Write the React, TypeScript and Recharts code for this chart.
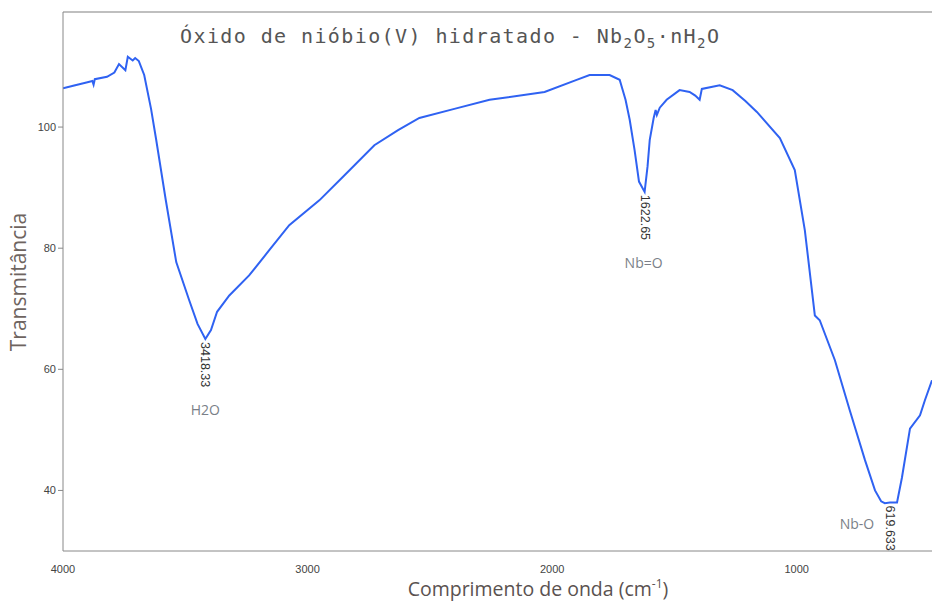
import React from 'react';
import { LineChart, Line, XAxis, YAxis, ReferenceLine, ReferenceDot } from 'recharts';

// wavenumber (cm-1) and transmittance
const wavenumber = [
  4000, 3950, 3900, 3880, 3875, 3870, 3820, 3790, 3771, 3745, 3735, 3715, 3705, 3690, 3668,
  3640, 3619, 3580, 3537, 3484, 3450, 3418, 3395, 3370, 3320, 3239, 3160, 3075, 2952, 2850,
  2727, 2630, 2543, 2400, 2256, 2031, 1900, 1847, 1765, 1724, 1700, 1683, 1663, 1645, 1622,
  1610, 1601, 1585, 1577, 1572, 1560, 1532, 1479, 1438, 1415, 1397, 1388, 1315, 1262, 1210,
  1163, 1069, 1008, 967, 926, 906, 844, 783, 721, 680, 655, 640, 619, 590, 570, 537, 496,
  476, 447,
];
const transmittance = [
  106.4, 106.9, 107.4, 107.6, 107.0, 107.9, 108.3, 109.0, 110.4, 109.4, 111.6, 111.0, 111.4, 110.9, 108.6,
  103.0, 97.9, 88.0, 77.7, 71.4, 67.5, 65.0, 66.5, 69.5, 72.2, 75.5, 79.5, 83.8, 87.9, 92.0,
  97.0, 99.5, 101.5, 103.0, 104.5, 105.8, 107.8, 108.6, 108.6, 107.8, 104.5, 101.2, 96.2, 91.0, 89.3,
  93.5, 97.9, 101.5, 102.8, 102.0, 103.2, 104.5, 106.1, 105.8, 105.2, 104.5, 106.3, 106.9, 106.1, 104.3,
  102.5, 98.2, 92.9, 83.0, 68.9, 68.1, 61.5, 53.2, 45.0, 40.0, 38.2, 37.9, 38.0, 38.0, 42.1, 50.2, 52.4,
  54.9, 58.2,
];

const xTicks = [4000, 3000, 2000, 1000];
const yTicks = [40, 60, 80, 100];

const peaks = [
  { w: 3418, t: 65.0, label: '3418.33', group: 'H2O', gdx: 0, gdy: 70 },
  { w: 1622, t: 89.3, label: '1622.65', group: 'Nb=O', gdx: -1, gdy: 71 },
  { w: 619, t: 38.0, label: '619.633', group: 'Nb-O', gdx: -33, gdy: 21 },
];

const data = wavenumber.map((w, i) => ({ w, t: transmittance[i] }));

const PeakLabel = ({ viewBox, text, group, gdx, gdy }: any) => {
  const x = viewBox.x + (viewBox.width || 0) / 2;
  const y = viewBox.y + (viewBox.height || 0) / 2;
  return (
    <g>
      <text
        transform={`translate(${x},${y + 3}) rotate(90)`}
        dominantBaseline="central"
        fontFamily="Liberation Sans, Arial, sans-serif"
        fontSize={12.5}
        fill="#333"
      >
        {text}
      </text>
      <text
        x={x + gdx}
        y={y + gdy}
        textAnchor="middle"
        dominantBaseline="central"
        fontFamily="Open Sans, sans-serif"
        fontSize={14}
        fill="#7a7f88"
      >
        {group}
      </text>
    </g>
  );
};

const App = () => {
  return (
    <div style={{ position: 'absolute', left: 0, top: 0, width: 932, height: 604, background: '#fff' }}>
      <LineChart width={932} height={604} data={data} margin={{ top: 12, right: 0, left: 0, bottom: 0 }}>
        <XAxis
          dataKey="w"
          type="number"
          domain={[447, 4000]}
          reversed
          allowDataOverflow
          ticks={xTicks}
          height={53}
          tickLine={false}
          stroke="#888"
          tick={{ fontSize: 11, fill: '#444', fontFamily: 'Liberation Sans, Arial, sans-serif' }}
          tickMargin={8}
        />
        <YAxis
          type="number"
          domain={[30, 119]}
          allowDataOverflow
          ticks={yTicks}
          width={63}
          tickSize={5}
          stroke="#888"
          tick={{ fontSize: 11, fill: '#444', fontFamily: 'Liberation Sans, Arial, sans-serif' }}
        />
        <ReferenceLine y={119} stroke="#aaa" strokeWidth={1.5} ifOverflow="extendDomain" />
        <Line
          type="linear"
          dataKey="t"
          stroke="#2f62f2"
          strokeWidth={2}
          dot={false}
          isAnimationActive={false}
        />
        {peaks.map((p) => (
          <ReferenceDot
            key={p.label}
            x={p.w}
            y={p.t}
            r={0}
            stroke="none"
            fill="none"
            label={(props: any) => (
              <PeakLabel {...props} text={p.label} group={p.group} gdx={p.gdx} gdy={p.gdy} />
            )}
          />
        ))}
      </LineChart>
      <div
        style={{
          position: 'absolute',
          left: 180,
          top: 24,
          fontFamily: 'DejaVu Sans Mono, monospace',
          fontSize: 20,
          color: '#555',
          whiteSpace: 'nowrap',
          letterSpacing: 1.4,
        }}
      >
        Óxido de nióbio(V) hidratado - Nb<sub style={{ fontSize: 14 }}>2</sub>O<sub style={{ fontSize: 14 }}>5</sub>·nH<sub style={{ fontSize: 14 }}>2</sub>O
      </div>
      <div
        style={{
          position: 'absolute',
          left: 18,
          top: 282,
          transform: 'translate(-50%, -50%) rotate(-90deg)',
          fontFamily: 'Open Sans, sans-serif',
          fontSize: 21,
          color: '#6e6460',
          whiteSpace: 'nowrap',
        }}
      >
        Transmitância
      </div>
      <div
        style={{
          position: 'absolute',
          left: 538,
          top: 588,
          transform: 'translate(-50%, -50%)',
          fontFamily: 'Open Sans, sans-serif',
          fontSize: 19.5,
          color: '#5a5250',
          whiteSpace: 'nowrap',
        }}
      >
        Comprimento de onda (cm<sup style={{ fontSize: 12 }}>-1</sup>)
      </div>
    </div>
  );
};

export default App;
